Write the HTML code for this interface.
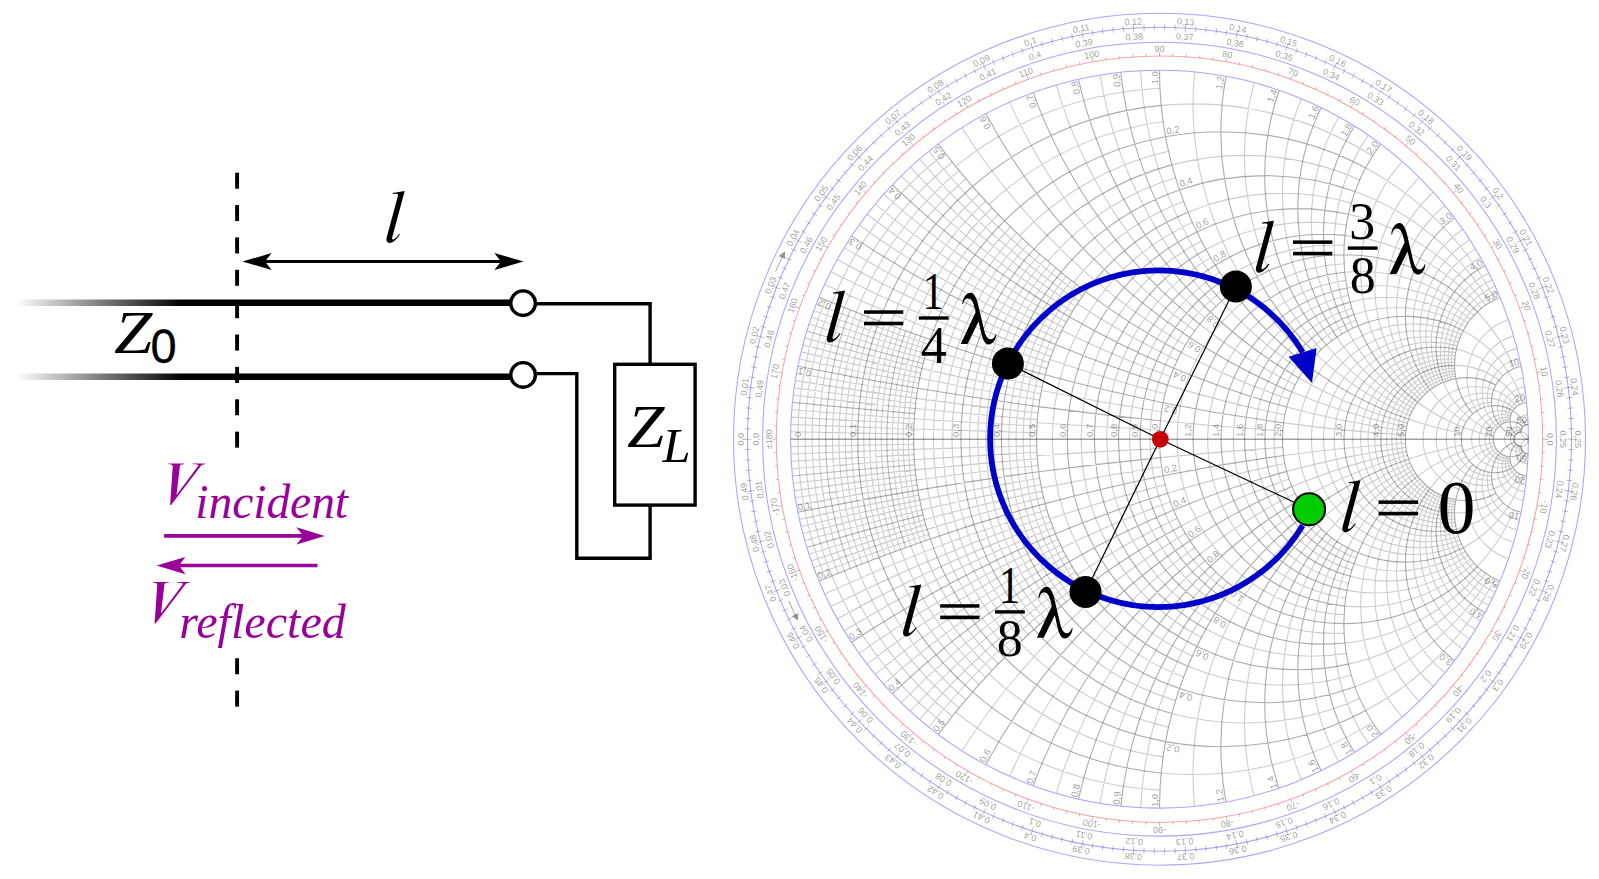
<!DOCTYPE html>
<html><head><meta charset="utf-8"><title>Transmission line and Smith chart</title><style>html,body{margin:0;padding:0;background:#fff;overflow:hidden}svg{display:block}</style></head><body>
<svg width="1599" height="879" viewBox="0 0 1599 879">
<rect width="1599" height="879" fill="#fff"/>
<g fill="none" stroke="#000" stroke-width="1.1">
<path stroke-opacity="0.2" d="M797.9,439.2A365.2,365.2 0 0 1 825.5,300.0M797.9,439.2A365.2,365.2 0 0 0 825.5,578.4M790.7,431.8A36890.0,36890.0 0 0 0 913.6,434.1M790.7,446.6A36890.0,36890.0 0 0 1 913.6,444.3M805.1,439.2A361.7,361.7 0 0 1 831.8,302.6M805.1,439.2A361.7,361.7 0 0 0 831.8,575.8M790.9,424.4A18445.0,18445.0 0 0 0 913.7,429.0M790.9,454.0A18445.0,18445.0 0 0 1 913.7,449.4M812.1,439.2A358.2,358.2 0 0 1 838.1,305.2M812.1,439.2A358.2,358.2 0 0 0 838.1,573.2M791.3,417.1A12296.7,12296.7 0 0 0 914.0,423.8M791.3,461.3A12296.7,12296.7 0 0 1 914.0,454.6M819.0,439.2A354.7,354.7 0 0 1 844.3,307.6M819.0,439.2A354.7,354.7 0 0 0 844.3,570.8M791.8,409.7A9222.5,9222.5 0 0 0 914.2,418.7M791.8,468.7A9222.5,9222.5 0 0 1 914.2,459.7M832.4,439.2A348.0,348.0 0 0 1 856.3,312.4M832.4,439.2A348.0,348.0 0 0 0 856.3,566.0M793.2,395.1A6148.3,6148.3 0 0 0 915.1,408.5M793.2,483.3A6148.3,6148.3 0 0 1 915.1,469.9M838.9,439.2A344.8,344.8 0 0 1 862.1,314.7M838.9,439.2A344.8,344.8 0 0 0 862.1,563.7M794.2,387.8A5270.0,5270.0 0 0 0 915.7,403.5M794.2,490.6A5270.0,5270.0 0 0 1 915.7,474.9M845.3,439.2A341.6,341.6 0 0 1 867.9,316.9M845.3,439.2A341.6,341.6 0 0 0 867.9,561.5M795.3,380.6A4611.2,4611.2 0 0 0 916.3,398.4M795.3,497.8A4611.2,4611.2 0 0 1 916.3,480.0M851.5,439.2A338.4,338.4 0 0 1 873.6,319.0M851.5,439.2A338.4,338.4 0 0 0 873.6,559.4M796.5,373.3A4098.9,4098.9 0 0 0 917.0,393.3M796.5,505.1A4098.9,4098.9 0 0 1 917.0,485.1M863.7,439.2A332.3,332.3 0 0 1 884.6,323.2M863.7,439.2A332.3,332.3 0 0 0 884.6,555.2M799.4,359.0A3353.6,3353.6 0 0 0 918.7,383.3M799.4,519.4A3353.6,3353.6 0 0 1 918.7,495.1M869.7,439.2A329.4,329.4 0 0 1 890.0,325.2M869.7,439.2A329.4,329.4 0 0 0 890.0,553.2M801.1,351.9A3074.2,3074.2 0 0 0 919.7,378.3M801.1,526.5A3074.2,3074.2 0 0 1 919.7,500.1M875.5,439.2A326.5,326.5 0 0 1 895.3,327.1M875.5,439.2A326.5,326.5 0 0 0 895.3,551.3M802.9,344.9A2837.7,2837.7 0 0 0 920.7,373.4M802.9,533.5A2837.7,2837.7 0 0 1 920.7,505.0M881.2,439.2A323.6,323.6 0 0 1 900.5,329.0M881.2,439.2A323.6,323.6 0 0 0 900.5,549.4M804.8,337.9A2635.0,2635.0 0 0 0 921.8,368.4M804.8,540.5A2635.0,2635.0 0 0 1 921.8,510.0M892.4,439.2A318.0,318.0 0 0 1 910.7,332.7M892.4,439.2A318.0,318.0 0 0 0 910.7,545.7M809.0,324.1A2305.6,2305.6 0 0 0 924.3,358.7M809.0,554.3A2305.6,2305.6 0 0 1 924.3,519.7M897.8,439.2A315.3,315.3 0 0 1 915.7,334.5M897.8,439.2A315.3,315.3 0 0 0 915.7,543.9M811.3,317.3A2170.0,2170.0 0 0 0 925.7,353.8M811.3,561.1A2170.0,2170.0 0 0 1 925.7,524.6M903.1,439.2A312.6,312.6 0 0 1 920.6,336.2M903.1,439.2A312.6,312.6 0 0 0 920.6,542.2M813.8,310.6A2049.4,2049.4 0 0 0 927.1,349.0M813.8,567.8A2049.4,2049.4 0 0 1 927.1,529.4M908.4,439.2A310.0,310.0 0 0 1 925.4,337.9M908.4,439.2A310.0,310.0 0 0 0 925.4,540.5M816.3,303.9A1941.6,1941.6 0 0 0 928.6,344.2M816.3,574.5A1941.6,1941.6 0 0 1 928.6,534.2M831.8,302.6A361.7,361.7 0 0 1 945.2,153.3M831.8,575.8A361.7,361.7 0 0 0 945.2,725.1M913.7,429.0A18445.0,18445.0 0 0 0 1036.6,432.6M913.7,449.4A18445.0,18445.0 0 0 1 1036.6,445.8M844.3,307.6A354.7,354.7 0 0 1 952.2,162.2M844.3,570.8A354.7,354.7 0 0 0 952.2,716.2M914.2,418.7A9222.5,9222.5 0 0 0 1036.9,426.1M914.2,459.7A9222.5,9222.5 0 0 1 1036.9,452.3M856.3,312.4A348.0,348.0 0 0 1 959.0,170.6M856.3,566.0A348.0,348.0 0 0 0 959.0,707.8M915.1,408.5A6148.3,6148.3 0 0 0 1037.3,419.6M915.1,469.9A6148.3,6148.3 0 0 1 1037.3,458.8M867.9,316.9A341.6,341.6 0 0 1 965.8,178.8M867.9,561.5A341.6,341.6 0 0 0 965.8,699.6M916.3,398.4A4611.2,4611.2 0 0 0 1037.9,413.0M916.3,480.0A4611.2,4611.2 0 0 1 1037.9,465.4M890.0,325.2A329.4,329.4 0 0 1 979.1,194.0M890.0,553.2A329.4,329.4 0 0 0 979.1,684.4M919.7,378.3A3074.2,3074.2 0 0 0 1039.7,400.1M919.7,500.1A3074.2,3074.2 0 0 1 1039.7,478.3M900.5,329.0A323.6,323.6 0 0 1 985.6,201.1M900.5,549.4A323.6,323.6 0 0 0 985.6,677.3M921.8,368.4A2635.0,2635.0 0 0 0 1040.8,393.7M921.8,510.0A2635.0,2635.0 0 0 1 1040.8,484.7M910.7,332.7A318.0,318.0 0 0 1 992.0,208.0M910.7,545.7A318.0,318.0 0 0 0 992.0,670.4M924.3,358.7A2305.6,2305.6 0 0 0 1042.1,387.3M924.3,519.7A2305.6,2305.6 0 0 1 1042.1,491.1M920.6,336.2A312.6,312.6 0 0 1 998.3,214.6M920.6,542.2A312.6,312.6 0 0 0 998.3,663.8M927.1,349.0A2049.4,2049.4 0 0 0 1043.5,381.0M927.1,529.4A2049.4,2049.4 0 0 1 1043.5,497.4M923.6,439.2A302.4,302.4 0 0 1 1010.6,227.0M923.6,439.2A302.4,302.4 0 0 0 1010.6,651.4M824.7,284.4A1676.8,1676.8 0 0 0 1046.9,368.6M824.7,594.0A1676.8,1676.8 0 0 1 1046.9,509.8M933.4,439.2A297.5,297.5 0 0 1 1016.6,232.8M933.4,439.2A297.5,297.5 0 0 0 1016.6,645.6M830.8,271.8A1537.1,1537.1 0 0 0 1048.8,362.5M830.8,606.6A1537.1,1537.1 0 0 1 1048.8,515.9M942.8,439.2A292.8,292.8 0 0 1 1022.5,238.4M942.8,439.2A292.8,292.8 0 0 0 1022.5,640.0M837.3,259.5A1418.8,1418.8 0 0 0 1050.9,356.4M837.3,618.9A1418.8,1418.8 0 0 1 1050.9,522.0M952.0,439.2A288.2,288.2 0 0 1 1028.3,243.8M952.0,439.2A288.2,288.2 0 0 0 1028.3,634.6M844.2,247.6A1317.5,1317.5 0 0 0 1053.1,350.5M844.2,630.8A1317.5,1317.5 0 0 1 1053.1,527.9M969.5,439.2A279.5,279.5 0 0 1 1039.6,254.0M969.5,439.2A279.5,279.5 0 0 0 1039.6,624.4M859.1,225.0A1152.8,1152.8 0 0 0 1057.9,338.8M859.1,653.4A1152.8,1152.8 0 0 1 1057.9,539.6M977.8,439.2A275.3,275.3 0 0 1 1045.1,258.9M977.8,439.2A275.3,275.3 0 0 0 1045.1,619.5M867.1,214.3A1085.0,1085.0 0 0 0 1060.6,333.2M867.1,664.1A1085.0,1085.0 0 0 1 1060.6,545.2M985.9,439.2A271.2,271.2 0 0 1 1050.5,263.5M985.9,439.2A271.2,271.2 0 0 0 1050.5,614.9M875.2,204.1A1024.7,1024.7 0 0 0 1063.3,327.6M875.2,674.3A1024.7,1024.7 0 0 1 1063.3,550.8M993.8,439.2A267.3,267.3 0 0 1 1055.8,268.0M993.8,439.2A267.3,267.3 0 0 0 1055.8,610.4M883.7,194.2A970.8,970.8 0 0 0 1066.2,322.1M883.7,684.2A970.8,970.8 0 0 1 1066.2,556.3M1008.8,439.2A259.8,259.8 0 0 1 1066.1,276.4M1008.8,439.2A259.8,259.8 0 0 0 1066.1,602.0M901.2,175.8A878.3,878.3 0 0 0 1072.3,311.5M901.2,702.6A878.3,878.3 0 0 1 1072.3,566.9M1016.0,439.2A256.2,256.2 0 0 1 1071.2,280.4M1016.0,439.2A256.2,256.2 0 0 0 1071.2,598.0M910.3,167.2A838.4,838.4 0 0 0 1075.5,306.4M910.3,711.2A838.4,838.4 0 0 1 1075.5,572.0M1023.1,439.2A252.7,252.7 0 0 1 1076.1,284.3M1023.1,439.2A252.7,252.7 0 0 0 1076.1,594.1M919.5,159.1A802.0,802.0 0 0 0 1078.8,301.3M919.5,719.3A802.0,802.0 0 0 1 1078.8,577.1M1029.9,439.2A249.3,249.3 0 0 1 1081.0,288.0M1029.9,439.2A249.3,249.3 0 0 0 1081.0,590.4M928.8,151.4A768.5,768.5 0 0 0 1082.2,296.4M928.8,727.0A768.5,768.5 0 0 1 1082.2,582.0M955.6,166.4A351.3,351.3 0 0 1 1159.9,88.3M955.6,712.0A351.3,351.3 0 0 0 1159.9,790.1M1037.1,422.8A7378.0,7378.0 0 0 0 1159.7,430.0M1037.1,455.6A7378.0,7378.0 0 0 1 1159.7,448.4M988.8,204.6A320.8,320.8 0 0 1 1163.1,121.5M988.8,673.8A320.8,320.8 0 0 0 1163.1,756.9M1041.4,390.5A2459.3,2459.3 0 0 0 1161.6,411.7M1041.4,487.9A2459.3,2459.3 0 0 1 1161.6,466.7M1019.6,235.7A295.1,295.1 0 0 1 1168.5,151.3M1019.6,642.7A295.1,295.1 0 0 0 1168.5,727.1M1049.8,359.4A1475.6,1475.6 0 0 0 1165.2,393.8M1049.8,519.0A1475.6,1475.6 0 0 1 1165.2,484.6M1047.8,261.2A273.3,273.3 0 0 1 1175.5,177.8M1047.8,617.2A273.3,273.3 0 0 0 1175.5,700.6M1061.9,330.4A1054.0,1054.0 0 0 0 1170.5,376.6M1061.9,548.0A1054.0,1054.0 0 0 1 1170.5,501.8M1073.6,282.4A254.4,254.4 0 0 1 1183.6,201.4M1073.6,596.0A254.4,254.4 0 0 0 1183.6,677.0M1077.1,303.8A819.8,819.8 0 0 0 1177.3,360.2M1077.1,574.6A819.8,819.8 0 0 1 1177.3,518.2M1052.4,439.2A238.0,238.0 0 0 1 1192.3,222.4M1052.4,439.2A238.0,238.0 0 0 0 1192.3,656.0M962.0,127.7A670.7,670.7 0 0 0 1185.4,344.9M962.0,750.7A670.7,670.7 0 0 1 1185.4,533.5M1081.2,439.2A223.6,223.6 0 0 1 1201.4,241.0M1081.2,439.2A223.6,223.6 0 0 0 1201.4,637.4M1009.7,102.1A567.5,567.5 0 0 0 1194.7,330.8M1009.7,776.3A567.5,567.5 0 0 1 1194.7,547.6M1106.8,439.2A210.8,210.8 0 0 1 1210.6,257.6M1106.8,439.2A210.8,210.8 0 0 0 1210.6,620.8M1056.2,85.1A491.9,491.9 0 0 0 1205.0,317.9M1056.2,793.3A491.9,491.9 0 0 1 1205.0,560.5M1129.6,439.2A199.4,199.4 0 0 1 1219.8,272.4M1129.6,439.2A199.4,199.4 0 0 0 1219.8,606.0M1100.1,75.1A434.0,434.0 0 0 0 1215.9,306.4M1100.1,803.3A434.0,434.0 0 0 1 1215.9,572.0M1150.0,439.2A189.2,189.2 0 0 1 1228.8,285.6M1150.0,439.2A189.2,189.2 0 0 0 1228.8,592.8M1140.6,70.8A388.3,388.3 0 0 0 1227.4,296.2M1140.6,807.6A388.3,388.3 0 0 1 1227.4,582.2M1161.2,105.4A335.4,335.4 0 0 1 1372.6,156.0M1161.2,773.0A335.4,335.4 0 0 0 1372.6,722.4M1160.4,420.8A3689.0,3689.0 0 0 0 1282.7,431.0M1160.4,457.6A3689.0,3689.0 0 0 1 1282.7,447.4M1171.8,164.9A283.8,283.8 0 0 1 1359.8,179.9M1171.8,713.5A283.8,283.8 0 0 0 1359.8,698.5M1167.6,385.1A1229.7,1229.7 0 0 0 1284.9,414.9M1167.6,493.3A1229.7,1229.7 0 0 1 1284.9,463.5M1187.9,212.2A245.9,245.9 0 0 1 1351.3,203.1M1187.9,666.2A245.9,245.9 0 0 0 1351.3,675.3M1181.2,352.4A737.8,737.8 0 0 0 1289.1,399.3M1181.2,526.0A737.8,737.8 0 0 1 1289.1,479.1M1206.0,249.5A217.0,217.0 0 0 1 1346.4,225.0M1206.0,628.9A217.0,217.0 0 0 0 1346.4,653.4M1199.8,324.2A527.0,527.0 0 0 0 1295.2,384.8M1199.8,554.2A527.0,527.0 0 0 1 1295.2,493.6M1224.3,279.2A194.2,194.2 0 0 1 1344.2,245.3M1224.3,599.2A194.2,194.2 0 0 0 1344.2,633.1M1221.6,301.2A409.9,409.9 0 0 0 1302.8,371.5M1221.6,577.2A409.9,409.9 0 0 1 1302.8,506.9M1177.1,439.2A175.7,175.7 0 0 1 1344.2,263.7M1177.1,439.2A175.7,175.7 0 0 0 1344.2,614.7M1194.6,72.0A335.4,335.4 0 0 0 1311.6,359.7M1194.6,806.4A335.4,335.4 0 0 1 1311.6,518.7M1207.6,439.2A160.4,160.4 0 0 1 1345.7,280.4M1207.6,439.2A160.4,160.4 0 0 0 1345.7,598.0M1254.1,82.6A283.8,283.8 0 0 0 1321.3,349.5M1254.1,795.8A283.8,283.8 0 0 1 1321.3,528.9M1233.3,439.2A147.6,147.6 0 0 1 1348.4,295.2M1233.3,439.2A147.6,147.6 0 0 0 1348.4,583.2M1301.4,98.7A245.9,245.9 0 0 0 1331.7,340.8M1301.4,779.7A245.9,245.9 0 0 1 1331.7,537.6M1255.1,439.2A136.6,136.6 0 0 1 1352.0,308.5M1255.1,439.2A136.6,136.6 0 0 0 1352.0,569.9M1338.7,116.8A217.0,217.0 0 0 0 1342.2,333.7M1338.7,761.6A217.0,217.0 0 0 1 1342.2,544.7M1274.0,439.2A127.2,127.2 0 0 1 1356.0,320.3M1274.0,439.2A127.2,127.2 0 0 0 1356.0,558.1M1368.4,135.1A194.2,194.2 0 0 0 1352.9,328.0M1368.4,743.3A194.2,194.2 0 0 1 1352.9,550.4M1365.7,167.9A307.4,307.4 0 0 1 1494.9,299.7M1365.7,710.5A307.4,307.4 0 0 0 1494.9,578.7M1283.6,422.9A1844.5,1844.5 0 0 0 1405.6,435.1M1283.6,455.5A1844.5,1844.5 0 0 1 1405.6,443.3M1355.1,191.6A263.5,263.5 0 0 1 1490.1,302.4M1355.1,686.8A263.5,263.5 0 0 0 1490.1,576.0M1286.8,407.0A922.2,922.2 0 0 0 1406.0,431.0M1286.8,471.4A922.2,922.2 0 0 1 1406.0,447.4M1348.4,214.3A230.6,230.6 0 0 1 1485.6,305.3M1348.4,664.1A230.6,230.6 0 0 0 1485.6,573.1M1291.9,391.9A614.8,614.8 0 0 0 1406.7,427.0M1291.9,486.5A614.8,614.8 0 0 1 1406.7,451.4M1345.0,235.4A204.9,204.9 0 0 1 1481.4,308.6M1345.0,643.0A204.9,204.9 0 0 0 1481.4,569.8M1298.8,378.0A461.1,461.1 0 0 0 1407.6,423.1M1298.8,500.4A461.1,461.1 0 0 1 1407.6,455.3M1344.8,272.3A167.7,167.7 0 0 1 1474.0,315.6M1344.8,606.1A167.7,167.7 0 0 0 1474.0,562.8M1316.4,354.4A307.4,307.4 0 0 0 1410.2,415.6M1316.4,524.0A307.4,307.4 0 0 1 1410.2,462.8M1347.0,288.0A153.7,153.7 0 0 1 1470.8,319.3M1347.0,590.4A153.7,153.7 0 0 0 1470.8,559.1M1326.4,345.0A263.5,263.5 0 0 0 1411.8,412.0M1326.4,533.4A263.5,263.5 0 0 1 1411.8,466.4M1350.1,302.1A141.9,141.9 0 0 1 1468.0,323.0M1350.1,576.3A141.9,141.9 0 0 0 1468.0,555.4M1336.9,337.1A230.6,230.6 0 0 0 1413.6,408.6M1336.9,541.3A230.6,230.6 0 0 1 1413.6,469.8M1353.9,314.6A131.8,131.8 0 0 1 1465.5,326.9M1353.9,563.8A131.8,131.8 0 0 0 1465.5,551.5M1347.6,330.7A204.9,204.9 0 0 0 1415.6,405.4M1347.6,547.7A204.9,204.9 0 0 1 1415.6,473.0M1297.8,439.2A115.3,115.3 0 0 1 1461.4,334.5M1297.8,439.2A115.3,115.3 0 0 0 1461.4,543.9M1402.1,161.3A167.7,167.7 0 0 0 1420.0,399.5M1402.1,717.1A167.7,167.7 0 0 1 1420.0,478.9M1311.4,439.2A108.5,108.5 0 0 1 1459.8,338.3M1311.4,439.2A108.5,108.5 0 0 0 1459.8,540.1M1419.3,177.3A153.7,153.7 0 0 0 1422.4,396.8M1419.3,701.1A153.7,153.7 0 0 1 1422.4,481.6M1323.5,439.2A102.5,102.5 0 0 1 1458.4,342.0M1323.5,439.2A102.5,102.5 0 0 0 1458.4,536.4M1433.3,192.0A141.9,141.9 0 0 0 1424.9,394.3M1433.3,686.4A141.9,141.9 0 0 1 1424.9,484.1M1334.2,439.2A97.1,97.1 0 0 1 1457.3,345.7M1334.2,439.2A97.1,97.1 0 0 0 1457.3,532.7M1444.9,205.5A131.8,131.8 0 0 0 1427.4,392.1M1444.9,672.9A131.8,131.8 0 0 1 1427.4,486.3M1352.7,439.2A87.8,87.8 0 0 1 1455.7,352.7M1352.7,439.2A87.8,87.8 0 0 0 1455.7,525.7M1462.8,229.2A115.3,115.3 0 0 0 1432.7,388.1M1462.8,649.2A115.3,115.3 0 0 1 1432.7,490.3M1360.7,439.2A83.8,83.8 0 0 1 1455.2,356.0M1360.7,439.2A83.8,83.8 0 0 0 1455.2,522.4M1469.7,239.5A108.5,108.5 0 0 0 1435.3,386.5M1469.7,638.9A108.5,108.5 0 0 1 1435.3,491.9M1368.0,439.2A80.2,80.2 0 0 1 1454.9,359.3M1368.0,439.2A80.2,80.2 0 0 0 1454.9,519.1M1475.5,248.9A102.5,102.5 0 0 0 1438.0,384.9M1475.5,629.5A102.5,102.5 0 0 1 1438.0,493.4M1374.7,439.2A76.9,76.9 0 0 1 1454.7,362.4M1374.7,439.2A76.9,76.9 0 0 0 1454.7,516.0M1480.6,257.6A97.1,97.1 0 0 0 1440.6,383.6M1480.6,620.8A97.1,97.1 0 0 1 1440.6,494.8M1386.5,439.2A70.9,70.9 0 0 1 1454.7,368.3M1386.5,439.2A70.9,70.9 0 0 0 1454.7,510.1M1488.8,273.0A87.8,87.8 0 0 0 1445.9,381.4M1488.8,605.4A87.8,87.8 0 0 1 1445.9,497.0M1391.8,439.2A68.3,68.3 0 0 1 1454.8,371.1M1391.8,439.2A68.3,68.3 0 0 0 1454.8,507.3M1492.2,279.8A83.8,83.8 0 0 0 1448.4,380.6M1492.2,598.6A83.8,83.8 0 0 1 1448.4,497.8M1396.6,439.2A65.9,65.9 0 0 1 1455.1,373.7M1396.6,439.2A65.9,65.9 0 0 0 1455.1,504.7M1495.1,286.0A80.2,80.2 0 0 0 1451.0,379.8M1495.1,592.4A80.2,80.2 0 0 1 1451.0,498.6M1401.2,439.2A63.6,63.6 0 0 1 1455.4,376.3M1401.2,439.2A63.6,63.6 0 0 0 1455.4,502.1M1497.7,291.9A76.9,76.9 0 0 0 1453.4,379.2M1497.7,586.5A76.9,76.9 0 0 1 1453.4,499.2M1477.5,312.0A184.4,184.4 0 0 1 1514.2,368.3M1477.5,566.4A184.4,184.4 0 0 0 1514.2,510.1M1408.8,419.3A368.9,368.9 0 0 0 1461.9,433.2M1408.8,459.1A368.9,368.9 0 0 1 1461.9,445.2M1463.3,330.7A123.0,123.0 0 0 1 1508.1,371.5M1463.3,547.7A123.0,123.0 0 0 0 1508.1,506.9M1417.7,402.3A184.4,184.4 0 0 0 1463.5,427.4M1417.7,476.1A184.4,184.4 0 0 1 1463.5,451.0M1456.4,349.2A92.2,92.2 0 0 1 1503.0,375.6M1456.4,529.2A92.2,92.2 0 0 0 1503.0,502.8M1430.0,390.0A123.0,123.0 0 0 0 1466.0,422.2M1430.0,488.4A123.0,123.0 0 0 1 1466.0,456.2M1454.6,365.4A73.8,73.8 0 0 1 1498.9,380.2M1454.6,513.0A73.8,73.8 0 0 0 1498.9,498.2M1443.3,382.4A92.2,92.2 0 0 0 1469.2,417.7M1443.3,496.0A92.2,92.2 0 0 1 1469.2,460.7M1423.0,439.2A52.7,52.7 0 0 1 1493.7,389.7M1423.0,439.2A52.7,52.7 0 0 0 1493.7,488.7M1508.5,319.6A61.5,61.5 0 0 0 1476.7,411.0M1508.5,558.8A61.5,61.5 0 0 1 1476.7,467.4M1436.2,439.2A46.1,46.1 0 0 1 1492.4,394.2M1436.2,439.2A46.1,46.1 0 0 0 1492.4,484.2M1513.6,335.9A52.7,52.7 0 0 0 1480.7,408.8M1513.6,542.5A52.7,52.7 0 0 1 1480.7,469.6M1446.4,439.2A41.0,41.0 0 0 1 1491.7,398.4M1446.4,439.2A41.0,41.0 0 0 0 1491.7,480.0M1517.0,348.4A46.1,46.1 0 0 0 1484.5,407.3M1517.0,530.0A46.1,46.1 0 0 1 1484.5,471.1M1454.6,439.2A36.9,36.9 0 0 1 1491.5,402.3M1454.6,439.2A36.9,36.9 0 0 0 1491.5,476.1M1519.4,358.2A41.0,41.0 0 0 0 1488.2,406.3M1519.4,520.2A41.0,41.0 0 0 1 1488.2,472.1M1508.1,371.5A123.0,123.0 0 0 1 1523.0,403.1M1508.1,506.9A123.0,123.0 0 0 0 1523.0,475.3M1463.5,427.4A184.4,184.4 0 0 0 1493.6,435.9M1463.5,451.0A184.4,184.4 0 0 1 1493.6,442.5M1498.9,380.2A73.8,73.8 0 0 1 1519.7,404.5M1498.9,498.2A73.8,73.8 0 0 0 1519.7,473.9M1469.2,417.7A92.2,92.2 0 0 0 1494.5,432.7M1469.2,460.7A92.2,92.2 0 0 1 1494.5,445.7M1493.7,389.7A52.7,52.7 0 0 1 1516.9,406.3M1493.7,488.7A52.7,52.7 0 0 0 1516.9,472.1M1476.7,411.0A61.5,61.5 0 0 0 1495.9,429.9M1476.7,467.4A61.5,61.5 0 0 1 1495.9,448.5M1491.7,398.4A41.0,41.0 0 0 1 1514.6,408.5M1491.7,480.0A41.0,41.0 0 0 0 1514.6,469.9M1484.5,407.3A46.1,46.1 0 0 0 1497.7,427.5M1484.5,471.1A46.1,46.1 0 0 1 1497.7,450.9M1471.6,439.2A28.4,28.4 0 0 1 1511.5,413.3M1471.6,439.2A28.4,28.4 0 0 0 1511.5,465.1M1523.3,378.1A30.7,30.7 0 0 0 1501.9,424.1M1523.3,500.3A30.7,30.7 0 0 1 1501.9,454.3M1479.2,439.2A24.6,24.6 0 0 1 1510.7,415.6M1479.2,439.2A24.6,24.6 0 0 0 1510.7,462.8M1524.7,386.8A26.3,26.3 0 0 0 1504.1,423.0M1524.7,491.6A26.3,26.3 0 0 1 1504.1,455.4M1485.0,439.2A21.7,21.7 0 0 1 1510.2,417.8M1485.0,439.2A21.7,21.7 0 0 0 1510.2,460.6M1525.5,393.3A23.1,23.1 0 0 0 1506.2,422.3M1525.5,485.1A23.1,23.1 0 0 1 1506.2,456.1M1489.6,439.2A19.4,19.4 0 0 1 1510.0,419.8M1489.6,439.2A19.4,19.4 0 0 0 1510.0,458.6M1526.1,398.3A20.5,20.5 0 0 0 1508.1,421.8M1526.1,480.1A20.5,20.5 0 0 1 1508.1,456.6M1504.6,439.2A11.9,11.9 0 0 1 1521.8,428.5M1504.6,439.2A11.9,11.9 0 0 0 1521.8,449.9M1527.6,414.6A12.3,12.3 0 0 0 1517.7,432.9M1527.6,463.8A12.3,12.3 0 0 1 1517.7,445.5M1510.4,439.2A9.0,9.0 0 0 1 1521.2,430.4M1510.4,439.2A9.0,9.0 0 0 0 1521.2,448.0M1527.9,420.8A9.2,9.2 0 0 0 1519.4,432.2M1527.9,457.6A9.2,9.2 0 0 1 1519.4,446.2"/>
<path stroke-opacity="0.27" d="M825.7,439.2A351.3,351.3 0 0 1 850.3,310.0M825.7,439.2A351.3,351.3 0 0 0 850.3,568.4M792.4,402.4A7378.0,7378.0 0 0 0 914.6,413.6M792.4,476.0A7378.0,7378.0 0 0 1 914.6,464.8M886.8,439.2A320.8,320.8 0 0 1 905.7,330.9M886.8,439.2A320.8,320.8 0 0 0 905.7,547.5M806.8,331.0A2459.3,2459.3 0 0 0 923.0,363.5M806.8,547.4A2459.3,2459.3 0 0 1 923.0,514.9"/>
<path stroke-opacity="0.33" d="M857.7,439.2A335.4,335.4 0 0 1 879.1,321.2M857.7,439.2A335.4,335.4 0 0 0 879.1,557.2M797.9,366.2A3689.0,3689.0 0 0 0 917.8,388.3M797.9,512.2A3689.0,3689.0 0 0 1 917.8,490.1M913.6,439.2A307.4,307.4 0 0 1 930.2,339.5M913.6,439.2A307.4,307.4 0 0 0 930.2,538.9M819.0,297.3A1844.5,1844.5 0 0 0 930.2,339.5M819.0,581.1A1844.5,1844.5 0 0 1 930.2,538.9M879.1,321.2A335.4,335.4 0 0 1 972.5,186.5M879.1,557.2A335.4,335.4 0 0 0 972.5,691.9M917.8,388.3A3689.0,3689.0 0 0 0 1038.7,406.6M917.8,490.1A3689.0,3689.0 0 0 1 1038.7,471.8M930.2,339.5A307.4,307.4 0 0 1 1004.5,220.9M930.2,538.9A307.4,307.4 0 0 0 1004.5,657.5M930.2,339.5A1844.5,1844.5 0 0 0 1045.1,374.8M930.2,538.9A1844.5,1844.5 0 0 1 1045.1,503.6M960.9,439.2A283.8,283.8 0 0 1 1034.0,249.0M960.9,439.2A283.8,283.8 0 0 0 1034.0,629.4M851.5,236.1A1229.7,1229.7 0 0 0 1055.5,344.6M851.5,642.3A1229.7,1229.7 0 0 1 1055.5,533.8M1001.4,439.2A263.5,263.5 0 0 1 1061.0,272.3M1001.4,439.2A263.5,263.5 0 0 0 1061.0,606.1M892.4,184.8A922.2,922.2 0 0 0 1069.2,316.7M892.4,693.6A922.2,922.2 0 0 1 1069.2,561.7M1036.5,439.2A245.9,245.9 0 0 1 1085.7,291.6M1036.5,439.2A245.9,245.9 0 0 0 1085.7,586.8M938.2,144.1A737.8,737.8 0 0 0 1085.7,291.6M938.2,734.3A737.8,737.8 0 0 1 1085.7,586.8M972.5,186.5A335.4,335.4 0 0 1 1161.2,105.4M972.5,691.9A335.4,335.4 0 0 0 1161.2,773.0M1038.7,406.6A3689.0,3689.0 0 0 0 1160.4,420.8M1038.7,471.8A3689.0,3689.0 0 0 1 1160.4,457.6M1004.5,220.9A307.4,307.4 0 0 1 1165.5,136.8M1004.5,657.5A307.4,307.4 0 0 0 1165.5,741.6M1045.1,374.8A1844.5,1844.5 0 0 0 1163.2,402.7M1045.1,503.6A1844.5,1844.5 0 0 1 1163.2,475.7M1034.0,249.0A283.8,283.8 0 0 1 1171.8,164.9M1034.0,629.4A283.8,283.8 0 0 0 1171.8,713.5M1055.5,344.6A1229.7,1229.7 0 0 0 1167.6,385.1M1055.5,533.8A1229.7,1229.7 0 0 1 1167.6,493.3M1061.0,272.3A263.5,263.5 0 0 1 1179.4,189.9M1061.0,606.1A263.5,263.5 0 0 0 1179.4,688.5M1069.2,316.7A922.2,922.2 0 0 0 1173.7,368.3M1069.2,561.7A922.2,922.2 0 0 1 1173.7,510.1M1085.7,291.6A245.9,245.9 0 0 1 1187.9,212.2M1085.7,586.8A245.9,245.9 0 0 0 1187.9,666.2M1085.7,291.6A737.8,737.8 0 0 0 1181.2,352.4M1085.7,586.8A737.8,737.8 0 0 1 1181.2,526.0M1067.3,439.2A230.6,230.6 0 0 1 1196.8,232.0M1067.3,439.2A230.6,230.6 0 0 0 1196.8,646.4M985.9,113.7A614.8,614.8 0 0 0 1190.0,337.7M985.9,764.7A614.8,614.8 0 0 1 1190.0,540.7M1094.4,439.2A217.0,217.0 0 0 1 1206.0,249.5M1094.4,439.2A217.0,217.0 0 0 0 1206.0,628.9M1033.2,92.6A527.0,527.0 0 0 0 1199.8,324.2M1033.2,785.8A527.0,527.0 0 0 1 1199.8,554.2M1118.5,439.2A204.9,204.9 0 0 1 1215.2,265.2M1118.5,439.2A204.9,204.9 0 0 0 1215.2,613.2M1078.5,79.3A461.1,461.1 0 0 0 1210.4,312.0M1078.5,799.1A461.1,461.1 0 0 1 1210.4,566.4M1140.1,439.2A194.2,194.2 0 0 1 1224.3,279.2M1140.1,439.2A194.2,194.2 0 0 0 1224.3,599.2M1120.8,72.3A409.9,409.9 0 0 0 1221.6,301.2M1120.8,806.1A409.9,409.9 0 0 1 1221.6,577.2M1159.5,439.2A184.4,184.4 0 0 1 1233.3,291.6M1159.5,439.2A184.4,184.4 0 0 0 1233.3,586.8M1159.5,70.3A368.9,368.9 0 0 0 1233.3,291.6M1159.5,808.1A368.9,368.9 0 0 1 1233.3,586.8M1165.5,136.8A307.4,307.4 0 0 1 1365.7,167.9M1165.5,741.6A307.4,307.4 0 0 0 1365.7,710.5M1163.2,402.7A1844.5,1844.5 0 0 0 1283.6,422.9M1163.2,475.7A1844.5,1844.5 0 0 1 1283.6,455.5M1179.4,189.9A263.5,263.5 0 0 1 1355.1,191.6M1179.4,688.5A263.5,263.5 0 0 0 1355.1,686.8M1173.7,368.3A922.2,922.2 0 0 0 1286.8,407.0M1173.7,510.1A922.2,922.2 0 0 1 1286.8,471.4M1196.8,232.0A230.6,230.6 0 0 1 1348.4,214.3M1196.8,646.4A230.6,230.6 0 0 0 1348.4,664.1M1190.0,337.7A614.8,614.8 0 0 0 1291.9,391.9M1190.0,540.7A614.8,614.8 0 0 1 1291.9,486.5M1215.2,265.2A204.9,204.9 0 0 1 1345.0,235.4M1215.2,613.2A204.9,204.9 0 0 0 1345.0,643.0M1210.4,312.0A461.1,461.1 0 0 0 1298.8,378.0M1210.4,566.4A461.1,461.1 0 0 1 1298.8,500.4M1233.3,291.6A184.4,184.4 0 0 1 1344.0,254.8M1233.3,586.8A184.4,184.4 0 0 0 1344.0,623.6M1233.3,291.6A368.9,368.9 0 0 0 1307.1,365.4M1233.3,586.8A368.9,368.9 0 0 1 1307.1,513.0M1193.0,439.2A167.7,167.7 0 0 1 1344.8,272.3M1193.0,439.2A167.7,167.7 0 0 0 1344.8,606.1M1226.0,76.3A307.4,307.4 0 0 0 1316.4,354.4M1226.0,802.1A307.4,307.4 0 0 1 1316.4,524.0M1221.0,439.2A153.7,153.7 0 0 1 1347.0,288.0M1221.0,439.2A153.7,153.7 0 0 0 1347.0,590.4M1279.1,90.2A263.5,263.5 0 0 0 1326.4,345.0M1279.1,788.2A263.5,263.5 0 0 1 1326.4,533.4M1244.6,439.2A141.9,141.9 0 0 1 1350.1,302.1M1244.6,439.2A141.9,141.9 0 0 0 1350.1,576.3M1321.2,107.6A230.6,230.6 0 0 0 1336.9,337.1M1321.2,770.8A230.6,230.6 0 0 1 1336.9,541.3M1264.9,439.2A131.8,131.8 0 0 1 1353.9,314.6M1264.9,439.2A131.8,131.8 0 0 0 1353.9,563.8M1354.4,126.0A204.9,204.9 0 0 0 1347.6,330.7M1354.4,752.4A204.9,204.9 0 0 1 1347.6,547.7M1282.5,439.2A123.0,123.0 0 0 1 1358.1,325.7M1282.5,439.2A123.0,123.0 0 0 0 1358.1,552.7M1380.8,144.1A184.4,184.4 0 0 0 1358.1,325.7M1380.8,734.3A184.4,184.4 0 0 1 1358.1,552.7M1344.0,254.8A184.4,184.4 0 0 1 1477.5,312.0M1344.0,623.6A184.4,184.4 0 0 0 1477.5,566.4M1307.1,365.4A368.9,368.9 0 0 0 1408.8,419.3M1307.1,513.0A368.9,368.9 0 0 1 1408.8,459.1M1358.1,325.7A123.0,123.0 0 0 1 1463.3,330.7M1358.1,552.7A123.0,123.0 0 0 0 1463.3,547.7M1358.1,325.7A184.4,184.4 0 0 0 1417.7,402.3M1358.1,552.7A184.4,184.4 0 0 1 1417.7,476.1M1344.0,439.2A92.2,92.2 0 0 1 1456.4,349.2M1344.0,439.2A92.2,92.2 0 0 0 1456.4,529.2M1454.6,217.9A123.0,123.0 0 0 0 1430.0,390.0M1454.6,660.5A123.0,123.0 0 0 1 1430.0,488.4M1380.8,439.2A73.8,73.8 0 0 1 1454.6,365.4M1380.8,439.2A73.8,73.8 0 0 0 1454.6,513.0M1485.0,265.6A92.2,92.2 0 0 0 1443.3,382.4M1485.0,612.8A92.2,92.2 0 0 1 1443.3,496.0M1405.4,439.2A61.5,61.5 0 0 1 1455.8,378.7M1405.4,439.2A61.5,61.5 0 0 0 1455.8,499.7M1500.0,297.3A73.8,73.8 0 0 0 1455.8,378.7M1500.0,581.1A73.8,73.8 0 0 1 1455.8,499.7M1455.8,378.7A61.5,61.5 0 0 1 1495.8,384.9M1455.8,499.7A61.5,61.5 0 0 0 1495.8,493.4M1455.8,378.7A73.8,73.8 0 0 0 1472.8,413.9M1455.8,499.7A73.8,73.8 0 0 1 1472.8,464.5M1461.3,439.2A33.5,33.5 0 0 1 1491.7,405.8M1461.3,439.2A33.5,33.5 0 0 0 1491.7,472.6M1521.1,366.2A36.9,36.9 0 0 0 1491.7,405.8M1521.1,512.2A36.9,36.9 0 0 1 1491.7,472.6M1491.7,405.8A33.5,33.5 0 0 1 1512.8,410.9M1491.7,472.6A33.5,33.5 0 0 0 1512.8,467.5M1491.7,405.8A36.9,36.9 0 0 0 1499.8,425.6M1491.7,472.6A36.9,36.9 0 0 1 1499.8,452.8M1493.3,439.2A17.6,17.6 0 0 1 1510.0,421.7M1493.3,439.2A17.6,17.6 0 0 0 1510.0,456.7M1526.6,402.4A18.4,18.4 0 0 0 1510.0,421.7M1526.6,476.0A18.4,18.4 0 0 1 1510.0,456.7M1512.8,410.9A33.5,33.5 0 0 1 1525.3,425.1M1512.8,467.5A33.5,33.5 0 0 0 1525.3,453.3M1499.8,425.6A36.9,36.9 0 0 0 1514.5,436.5M1499.8,452.8A36.9,36.9 0 0 1 1514.5,441.9M1510.0,421.7A17.6,17.6 0 0 1 1523.1,426.7M1510.0,456.7A17.6,17.6 0 0 0 1523.1,451.7M1510.0,421.7A18.4,18.4 0 0 0 1515.9,434.3M1510.0,456.7A18.4,18.4 0 0 1 1515.9,444.1M1513.9,439.2A7.2,7.2 0 0 1 1521.0,432.0M1513.9,439.2A7.2,7.2 0 0 0 1521.0,446.4M1528.1,424.4A7.4,7.4 0 0 0 1521.0,432.0M1528.1,454.0A7.4,7.4 0 0 1 1521.0,446.4"/>
<path stroke-opacity="0.36" stroke-width="1.4" d="M790.6,439.2H1528.4"/>
</g>
<g fill="none" stroke-width="1.05">
<circle cx="1159.5" cy="439.2" r="368.9" stroke="#a6a6ff"/>
<circle cx="1159.5" cy="439.2" r="383.2" stroke="#ffa2a2"/>
<circle cx="1159.5" cy="439.2" r="396.9" stroke="#a6a6ff"/>
<circle cx="1159.5" cy="439.2" r="412" stroke="#a6a6ff"/>
<circle cx="1159.5" cy="439.2" r="426" stroke="#a6a6ff"/>
</g>
<path fill="none" stroke="#000" stroke-opacity="0.3" stroke-width="0.8" d="M751.7,439.2L743.3,439.2M750.6,428.9L744.6,428.8M751.0,418.7L745.0,418.3M751.7,408.4L745.7,407.9M752.6,398.2L746.6,397.5M754.9,388.1L746.6,387.0M755.1,377.8L749.2,376.9M756.8,367.6L750.9,366.6M758.7,357.5L752.9,356.3M760.9,347.5L755.1,346.1M764.5,337.8L756.4,335.7M766.0,327.6L760.3,325.9M769.0,317.7L763.2,315.9M772.1,307.9L766.5,306.0M775.6,298.2L769.9,296.2M780.3,289.1L772.5,286.0M783.1,279.1L777.6,276.8M787.3,269.7L781.8,267.2M791.6,260.4L786.2,257.8M796.3,251.2L790.9,248.5M802.1,242.7L794.8,238.7M806.2,233.2L801.0,230.2M811.4,224.4L806.3,221.3M817.0,215.7L811.9,212.4M822.7,207.2L817.7,203.8M829.6,199.5L822.8,194.6M834.8,190.6L830.0,186.9M841.1,182.5L836.4,178.7M847.7,174.6L843.1,170.7M854.4,166.8L849.9,162.8M862.2,160.0L856.1,154.3M868.5,151.8L864.2,147.6M875.8,144.6L871.6,140.3M883.3,137.6L879.2,133.1M891.0,130.7L887.0,126.2M899.6,125.0L894.2,118.5M906.8,117.6L903.1,112.9M915.0,111.4L911.4,106.5M923.3,105.3L919.8,100.4M931.7,99.5L928.4,94.5M941.0,94.9L936.5,87.8M949.1,88.5L946.0,83.3M958.0,83.3L955.0,78.1M967.0,78.3L964.2,73.0M976.1,73.6L973.4,68.3M985.9,70.2L982.3,62.6M994.7,64.9L992.3,59.4M1004.2,60.8L1001.9,55.3M1013.7,57.1L1011.6,51.5M1023.4,53.5L1021.4,47.9M1033.5,51.4L1030.9,43.4M1042.9,47.2L1041.2,41.4M1052.8,44.4L1051.3,38.6M1062.8,41.8L1061.4,36.0M1072.8,39.5L1071.5,33.6M1083.1,38.6L1081.5,30.4M1093.0,35.6L1092.0,29.7M1103.1,34.1L1102.3,28.2M1113.3,32.8L1112.7,26.9M1123.6,31.8L1123.0,25.8M1133.9,32.2L1133.4,23.8M1144.1,30.5L1143.9,24.5M1154.4,30.2L1154.3,24.2M1164.6,30.2L1164.7,24.2M1174.9,30.5L1175.1,24.5M1185.1,32.2L1185.6,23.8M1195.4,31.8L1196.0,25.8M1205.7,32.8L1206.3,26.9M1215.9,34.1L1216.7,28.2M1226.0,35.6L1227.0,29.7M1235.9,38.6L1237.5,30.4M1246.2,39.5L1247.5,33.6M1256.2,41.8L1257.6,36.0M1266.2,44.4L1267.7,38.6M1276.1,47.2L1277.8,41.4M1285.5,51.4L1288.1,43.4M1295.6,53.5L1297.6,47.9M1305.3,57.1L1307.4,51.5M1314.8,60.8L1317.1,55.3M1324.3,64.9L1326.7,59.4M1333.1,70.2L1336.7,62.6M1342.9,73.6L1345.6,68.3M1352.0,78.3L1354.8,73.0M1361.0,83.3L1364.0,78.1M1369.9,88.5L1373.0,83.3M1378.0,94.9L1382.5,87.8M1387.3,99.5L1390.6,94.5M1395.7,105.3L1399.2,100.4M1404.0,111.4L1407.6,106.5M1412.2,117.6L1415.9,112.9M1419.4,125.0L1424.8,118.5M1428.0,130.7L1432.0,126.2M1435.7,137.6L1439.8,133.1M1443.2,144.6L1447.4,140.3M1450.5,151.8L1454.8,147.6M1456.8,160.0L1462.9,154.3M1464.6,166.8L1469.1,162.8M1471.3,174.6L1475.9,170.7M1477.9,182.5L1482.6,178.7M1484.2,190.6L1489.0,186.9M1489.4,199.5L1496.2,194.6M1496.3,207.2L1501.3,203.8M1502.0,215.7L1507.1,212.4M1507.6,224.4L1512.7,221.3M1512.8,233.2L1518.0,230.2M1516.9,242.7L1524.2,238.7M1522.7,251.2L1528.1,248.5M1527.4,260.4L1532.8,257.8M1531.7,269.7L1537.2,267.2M1535.9,279.1L1541.4,276.8M1538.7,289.1L1546.5,286.0M1543.4,298.2L1549.1,296.2M1546.9,307.9L1552.5,306.0M1550.0,317.7L1555.8,315.9M1553.0,327.6L1558.7,325.9M1554.5,337.8L1562.6,335.7M1558.1,347.5L1563.9,346.1M1560.3,357.5L1566.1,356.3M1562.2,367.6L1568.1,366.6M1563.9,377.8L1569.8,376.9M1564.1,388.1L1572.4,387.0M1566.4,398.2L1572.4,397.5M1567.3,408.4L1573.3,407.9M1568.0,418.7L1574.0,418.3M1568.4,428.9L1574.4,428.8M1567.3,439.2L1575.7,439.2M1568.4,449.5L1574.4,449.6M1568.0,459.7L1574.0,460.1M1567.3,470.0L1573.3,470.5M1566.4,480.2L1572.4,480.9M1564.1,490.3L1572.4,491.4M1563.9,500.6L1569.8,501.5M1562.2,510.8L1568.1,511.8M1560.3,520.9L1566.1,522.1M1558.1,530.9L1563.9,532.3M1554.5,540.6L1562.6,542.7M1553.0,550.8L1558.7,552.5M1550.0,560.7L1555.8,562.5M1546.9,570.5L1552.5,572.4M1543.4,580.2L1549.1,582.2M1538.7,589.3L1546.5,592.4M1535.9,599.3L1541.4,601.6M1531.7,608.7L1537.2,611.2M1527.4,618.0L1532.8,620.6M1522.7,627.2L1528.1,629.9M1516.9,635.7L1524.2,639.7M1512.8,645.2L1518.0,648.2M1507.6,654.0L1512.7,657.1M1502.0,662.7L1507.1,666.0M1496.3,671.2L1501.3,674.6M1489.4,678.9L1496.2,683.8M1484.2,687.8L1489.0,691.5M1477.9,695.9L1482.6,699.7M1471.3,703.8L1475.9,707.7M1464.6,711.6L1469.1,715.6M1456.8,718.4L1462.9,724.1M1450.5,726.6L1454.8,730.8M1443.2,733.8L1447.4,738.1M1435.7,740.8L1439.8,745.3M1428.0,747.7L1432.0,752.2M1419.4,753.4L1424.8,759.9M1412.2,760.8L1415.9,765.5M1404.0,767.0L1407.6,771.9M1395.7,773.1L1399.2,778.0M1387.3,778.9L1390.6,783.9M1378.0,783.5L1382.5,790.6M1369.9,789.9L1373.0,795.1M1361.0,795.1L1364.0,800.3M1352.0,800.1L1354.8,805.4M1342.9,804.8L1345.6,810.1M1333.1,808.2L1336.7,815.8M1324.3,813.5L1326.7,819.0M1314.8,817.6L1317.1,823.1M1305.3,821.3L1307.4,826.9M1295.6,824.9L1297.6,830.5M1285.5,827.0L1288.1,835.0M1276.1,831.2L1277.8,837.0M1266.2,834.0L1267.7,839.8M1256.2,836.6L1257.6,842.4M1246.2,838.9L1247.5,844.8M1235.9,839.8L1237.5,848.0M1226.0,842.8L1227.0,848.7M1215.9,844.3L1216.7,850.2M1205.7,845.6L1206.3,851.5M1195.4,846.6L1196.0,852.6M1185.1,846.2L1185.6,854.6M1174.9,847.9L1175.1,853.9M1164.6,848.2L1164.7,854.2M1154.4,848.2L1154.3,854.2M1144.1,847.9L1143.9,853.9M1133.9,846.2L1133.4,854.6M1123.6,846.6L1123.0,852.6M1113.3,845.6L1112.7,851.5M1103.1,844.3L1102.3,850.2M1093.0,842.8L1092.0,848.7M1083.1,839.8L1081.5,848.0M1072.8,838.9L1071.5,844.8M1062.8,836.6L1061.4,842.4M1052.8,834.0L1051.3,839.8M1042.9,831.2L1041.2,837.0M1033.5,827.0L1030.9,835.0M1023.4,824.9L1021.4,830.5M1013.7,821.3L1011.6,826.9M1004.2,817.6L1001.9,823.1M994.7,813.5L992.3,819.0M985.9,808.2L982.3,815.8M976.1,804.8L973.4,810.1M967.0,800.1L964.2,805.4M958.0,795.1L955.0,800.3M949.1,789.9L946.0,795.1M941.0,783.5L936.5,790.6M931.7,778.9L928.4,783.9M923.3,773.1L919.8,778.0M915.0,767.0L911.4,771.9M906.8,760.8L903.1,765.5M899.6,753.4L894.2,759.9M891.0,747.7L887.0,752.2M883.3,740.8L879.2,745.3M875.8,733.8L871.6,738.1M868.5,726.6L864.2,730.8M862.2,718.4L856.1,724.1M854.4,711.6L849.9,715.6M847.7,703.8L843.1,707.7M841.1,695.9L836.4,699.7M834.8,687.8L830.0,691.5M829.6,678.9L822.8,683.8M822.7,671.2L817.7,674.6M817.0,662.7L811.9,666.0M811.4,654.0L806.3,657.1M806.2,645.2L801.0,648.2M802.1,635.7L794.8,639.7M796.3,627.2L790.9,629.9M791.6,618.0L786.2,620.6M787.3,608.7L781.8,611.2M783.1,599.3L777.6,601.6M780.3,589.3L772.5,592.4M775.6,580.2L769.9,582.2M772.1,570.5L766.5,572.4M769.0,560.7L763.2,562.5M766.0,550.8L760.3,552.5M764.5,540.6L756.4,542.7M760.9,530.9L755.1,532.3M758.7,520.9L752.9,522.1M756.8,510.8L750.9,511.8M755.1,500.6L749.2,501.5M754.9,490.3L746.6,491.4M752.6,480.2L746.6,480.9M751.7,470.0L745.7,470.5M751.0,459.7L745.0,460.1M750.6,449.5L744.6,449.6M1542.7,439.2L1546.5,439.2M1542.5,425.8L1545.1,425.7M1541.8,412.5L1544.4,412.3M1540.6,399.1L1543.2,398.9M1539.0,385.9L1541.5,385.5M1536.9,372.7L1540.6,372.0M1534.3,359.5L1536.9,359.0M1531.3,346.5L1533.8,345.9M1527.9,333.6L1530.4,332.9M1523.9,320.8L1526.4,320.0M1519.6,308.1L1523.2,306.8M1514.8,295.7L1517.2,294.7M1509.6,283.3L1511.9,282.3M1503.9,271.2L1506.3,270.1M1497.8,259.3L1500.1,258.1M1491.4,247.6L1494.7,245.7M1484.5,236.1L1486.7,234.8M1477.2,224.9L1479.3,223.5M1469.5,214.0L1471.6,212.4M1461.5,203.3L1463.5,201.7M1453.0,192.9L1456.0,190.4M1444.3,182.8L1446.2,181.0M1435.2,173.0L1437.0,171.2M1425.7,163.5L1427.5,161.7M1415.9,154.4L1417.7,152.5M1405.8,145.7L1408.3,142.7M1395.4,137.2L1397.0,135.2M1384.7,129.2L1386.3,127.1M1373.8,121.5L1375.2,119.4M1362.6,114.2L1363.9,112.0M1351.1,107.3L1353.0,104.0M1339.4,100.9L1340.6,98.6M1327.5,94.8L1328.6,92.4M1315.4,89.1L1316.4,86.8M1303.0,83.9L1304.0,81.5M1290.6,79.1L1291.9,75.5M1277.9,74.8L1278.7,72.3M1265.1,70.8L1265.8,68.3M1252.2,67.4L1252.8,64.9M1239.2,64.4L1239.7,61.8M1226.0,61.8L1226.7,58.1M1212.8,59.7L1213.2,57.2M1199.6,58.1L1199.8,55.5M1186.2,56.9L1186.4,54.3M1172.9,56.2L1173.0,53.6M1159.5,56.0L1159.5,52.2M1146.1,56.2L1146.0,53.6M1132.8,56.9L1132.6,54.3M1119.4,58.1L1119.2,55.5M1106.2,59.7L1105.8,57.2M1093.0,61.8L1092.3,58.1M1079.8,64.4L1079.3,61.8M1066.8,67.4L1066.2,64.9M1053.9,70.8L1053.2,68.3M1041.1,74.8L1040.3,72.3M1028.4,79.1L1027.1,75.5M1016.0,83.9L1015.0,81.5M1003.6,89.1L1002.6,86.8M991.5,94.8L990.4,92.4M979.6,100.9L978.4,98.6M967.9,107.3L966.0,104.0M956.4,114.2L955.1,112.0M945.2,121.5L943.8,119.4M934.3,129.2L932.7,127.1M923.6,137.2L922.0,135.2M913.2,145.7L910.7,142.7M903.1,154.4L901.3,152.5M893.3,163.5L891.5,161.7M883.8,173.0L882.0,171.2M874.7,182.8L872.8,181.0M866.0,192.9L863.0,190.4M857.5,203.3L855.5,201.7M849.5,214.0L847.4,212.4M841.8,224.9L839.7,223.5M834.5,236.1L832.3,234.8M827.6,247.6L824.3,245.7M821.2,259.3L818.9,258.1M815.1,271.2L812.7,270.1M809.4,283.3L807.1,282.3M804.2,295.7L801.8,294.7M799.4,308.1L795.8,306.8M795.1,320.8L792.6,320.0M791.1,333.6L788.6,332.9M787.7,346.5L785.2,345.9M784.7,359.5L782.1,359.0M782.1,372.7L778.4,372.0M780.0,385.9L777.5,385.5M778.4,399.1L775.8,398.9M777.2,412.5L774.6,412.3M776.5,425.8L773.9,425.7M776.3,439.2L772.5,439.2M776.5,452.6L773.9,452.7M777.2,465.9L774.6,466.1M778.4,479.3L775.8,479.5M780.0,492.5L777.5,492.9M782.1,505.7L778.4,506.4M784.7,518.9L782.1,519.4M787.7,531.9L785.2,532.5M791.1,544.8L788.6,545.5M795.1,557.6L792.6,558.4M799.4,570.3L795.8,571.6M804.2,582.7L801.8,583.7M809.4,595.1L807.1,596.1M815.1,607.2L812.7,608.3M821.2,619.1L818.9,620.3M827.6,630.8L824.3,632.7M834.5,642.3L832.3,643.6M841.8,653.5L839.7,654.9M849.5,664.4L847.4,666.0M857.5,675.1L855.5,676.7M866.0,685.5L863.0,688.0M874.7,695.6L872.8,697.4M883.8,705.4L882.0,707.2M893.3,714.9L891.5,716.7M903.1,724.0L901.3,725.9M913.2,732.7L910.7,735.7M923.6,741.2L922.0,743.2M934.3,749.2L932.7,751.3M945.2,756.9L943.8,759.0M956.4,764.2L955.1,766.4M967.9,771.1L966.0,774.4M979.6,777.5L978.4,779.8M991.5,783.6L990.4,786.0M1003.6,789.3L1002.6,791.6M1016.0,794.5L1015.0,796.9M1028.4,799.3L1027.1,802.9M1041.1,803.6L1040.3,806.1M1053.9,807.6L1053.2,810.1M1066.8,811.0L1066.2,813.5M1079.8,814.0L1079.3,816.6M1093.0,816.6L1092.3,820.3M1106.2,818.7L1105.8,821.2M1119.4,820.3L1119.2,822.9M1132.8,821.5L1132.6,824.1M1146.1,822.2L1146.0,824.8M1159.5,822.4L1159.5,826.2M1172.9,822.2L1173.0,824.8M1186.2,821.5L1186.4,824.1M1199.6,820.3L1199.8,822.9M1212.8,818.7L1213.2,821.2M1226.0,816.6L1226.7,820.3M1239.2,814.0L1239.7,816.6M1252.2,811.0L1252.8,813.5M1265.1,807.6L1265.8,810.1M1277.9,803.6L1278.7,806.1M1290.6,799.3L1291.9,802.9M1303.0,794.5L1304.0,796.9M1315.4,789.3L1316.4,791.6M1327.5,783.6L1328.6,786.0M1339.4,777.5L1340.6,779.8M1351.1,771.1L1353.0,774.4M1362.6,764.2L1363.9,766.4M1373.8,756.9L1375.2,759.0M1384.7,749.2L1386.3,751.3M1395.4,741.2L1397.0,743.2M1405.8,732.7L1408.3,735.7M1415.9,724.0L1417.7,725.9M1425.7,714.9L1427.5,716.7M1435.2,705.4L1437.0,707.2M1444.3,695.6L1446.2,697.4M1453.0,685.5L1456.0,688.0M1461.5,675.1L1463.5,676.7M1469.5,664.4L1471.6,666.0M1477.2,653.5L1479.3,654.9M1484.5,642.3L1486.7,643.6M1491.4,630.8L1494.7,632.7M1497.8,619.1L1500.1,620.3M1503.9,607.2L1506.3,608.3M1509.6,595.1L1511.9,596.1M1514.8,582.7L1517.2,583.7M1519.6,570.3L1523.2,571.6M1523.9,557.6L1526.4,558.4M1527.9,544.8L1530.4,545.5M1531.3,531.9L1533.8,532.5M1534.3,518.9L1536.9,519.4M1536.9,505.7L1540.6,506.4M1539.0,492.5L1541.5,492.9M1540.6,479.3L1543.2,479.5M1541.8,465.9L1544.4,466.1M1542.5,452.6L1545.1,452.7"/>
<path d="M775.5,271.5L782.3,256.8" stroke="#000" stroke-opacity="0.4" stroke-width="0.9" fill="none"/>
<path d="M785.0,251.3L778.7,255.9L785.2,259.1Z" fill="#000" fill-opacity="0.42"/>
<path d="M788.8,601.1L795.3,615.3" stroke="#000" stroke-opacity="0.4" stroke-width="0.9" fill="none"/>
<path d="M798.0,620.6L791.8,616.2L798.3,613.1Z" fill="#000" fill-opacity="0.42"/>
<circle cx="1521.2" cy="439.2" r="7.2" fill="none" stroke="#000" stroke-opacity="0.25" stroke-width="1"/>
<path d="M1528.1,424.4A7.4,7.4 0 0 0 1528.4,439.2" fill="none" stroke="#000" stroke-opacity="0.25" stroke-width="1"/>
<path d="M1528.1,454.0A7.4,7.4 0 0 1 1528.4,439.2" fill="none" stroke="#000" stroke-opacity="0.25" stroke-width="1"/>
<g font-family="Liberation Sans" font-size="9" fill="#000" fill-opacity="0.42" text-anchor="middle">
<text transform="translate(741.2,439.2) rotate(-90.00)" y="3.2">0,0</text>
<text transform="translate(756.2,439.2) rotate(-90.00)" y="3.2">0,0</text>
<text transform="translate(744.5,386.8) rotate(-82.80)" y="3.2">0,01</text>
<text transform="translate(759.4,388.7) rotate(-82.80)" y="3.2">0,49</text>
<text transform="translate(754.3,335.2) rotate(-75.60)" y="3.2">0,02</text>
<text transform="translate(768.9,338.9) rotate(-75.60)" y="3.2">0,48</text>
<text transform="translate(770.6,285.2) rotate(-68.40)" y="3.2">0,03</text>
<text transform="translate(784.5,290.7) rotate(-68.40)" y="3.2">0,47</text>
<text transform="translate(792.9,237.7) rotate(-61.20)" y="3.2">0,04</text>
<text transform="translate(806.1,244.9) rotate(-61.20)" y="3.2">0,46</text>
<text transform="translate(821.1,193.3) rotate(-54.00)" y="3.2">0,05</text>
<text transform="translate(833.2,202.1) rotate(-54.00)" y="3.2">0,45</text>
<text transform="translate(854.6,152.9) rotate(-46.80)" y="3.2">0,06</text>
<text transform="translate(865.5,163.1) rotate(-46.80)" y="3.2">0,44</text>
<text transform="translate(892.9,116.9) rotate(-39.60)" y="3.2">0,07</text>
<text transform="translate(902.4,128.5) rotate(-39.60)" y="3.2">0,43</text>
<text transform="translate(935.4,86.0) rotate(-32.40)" y="3.2">0,08</text>
<text transform="translate(943.4,98.7) rotate(-32.40)" y="3.2">0,42</text>
<text transform="translate(981.4,60.7) rotate(-25.20)" y="3.2">0,09</text>
<text transform="translate(987.8,74.3) rotate(-25.20)" y="3.2">0,41</text>
<text transform="translate(1030.2,41.4) rotate(-18.00)" y="3.2">0,1</text>
<text transform="translate(1034.9,55.6) rotate(-18.00)" y="3.2">0,4</text>
<text transform="translate(1081.1,28.3) rotate(-10.80)" y="3.2">0,11</text>
<text transform="translate(1083.9,43.0) rotate(-10.80)" y="3.2">0,39</text>
<text transform="translate(1133.2,21.7) rotate(-3.60)" y="3.2">0,12</text>
<text transform="translate(1134.2,36.7) rotate(-3.60)" y="3.2">0,38</text>
<text transform="translate(1185.8,21.7) rotate(3.60)" y="3.2">0,13</text>
<text transform="translate(1184.8,36.7) rotate(3.60)" y="3.2">0,37</text>
<text transform="translate(1237.9,28.3) rotate(10.80)" y="3.2">0,14</text>
<text transform="translate(1235.1,43.0) rotate(10.80)" y="3.2">0,36</text>
<text transform="translate(1288.8,41.4) rotate(18.00)" y="3.2">0,15</text>
<text transform="translate(1284.1,55.6) rotate(18.00)" y="3.2">0,35</text>
<text transform="translate(1337.6,60.7) rotate(25.20)" y="3.2">0,16</text>
<text transform="translate(1331.2,74.3) rotate(25.20)" y="3.2">0,34</text>
<text transform="translate(1383.6,86.0) rotate(32.40)" y="3.2">0,17</text>
<text transform="translate(1375.6,98.7) rotate(32.40)" y="3.2">0,33</text>
<text transform="translate(1426.1,116.9) rotate(39.60)" y="3.2">0,18</text>
<text transform="translate(1416.6,128.5) rotate(39.60)" y="3.2">0,32</text>
<text transform="translate(1464.4,152.9) rotate(46.80)" y="3.2">0,19</text>
<text transform="translate(1453.5,163.1) rotate(46.80)" y="3.2">0,31</text>
<text transform="translate(1497.9,193.3) rotate(54.00)" y="3.2">0,2</text>
<text transform="translate(1485.8,202.1) rotate(54.00)" y="3.2">0,3</text>
<text transform="translate(1526.1,237.7) rotate(61.20)" y="3.2">0,21</text>
<text transform="translate(1512.9,244.9) rotate(61.20)" y="3.2">0,29</text>
<text transform="translate(1548.4,285.2) rotate(68.40)" y="3.2">0,22</text>
<text transform="translate(1534.5,290.7) rotate(68.40)" y="3.2">0,28</text>
<text transform="translate(1564.7,335.2) rotate(75.60)" y="3.2">0,23</text>
<text transform="translate(1550.1,338.9) rotate(75.60)" y="3.2">0,27</text>
<text transform="translate(1574.5,386.8) rotate(82.80)" y="3.2">0,24</text>
<text transform="translate(1559.6,388.7) rotate(82.80)" y="3.2">0,26</text>
<text transform="translate(1577.8,439.2) rotate(90.00)" y="3.2">0,25</text>
<text transform="translate(1562.8,439.2) rotate(90.00)" y="3.2">0,25</text>
<text transform="translate(1574.5,491.6) rotate(97.20)" y="3.2">0,26</text>
<text transform="translate(1559.6,489.7) rotate(97.20)" y="3.2">0,24</text>
<text transform="translate(1564.7,543.2) rotate(104.40)" y="3.2">0,27</text>
<text transform="translate(1550.1,539.5) rotate(104.40)" y="3.2">0,23</text>
<text transform="translate(1548.4,593.2) rotate(111.60)" y="3.2">0,28</text>
<text transform="translate(1534.5,587.7) rotate(111.60)" y="3.2">0,22</text>
<text transform="translate(1526.1,640.7) rotate(118.80)" y="3.2">0,29</text>
<text transform="translate(1512.9,633.5) rotate(118.80)" y="3.2">0,21</text>
<text transform="translate(1497.9,685.1) rotate(126.00)" y="3.2">0,3</text>
<text transform="translate(1485.8,676.3) rotate(126.00)" y="3.2">0,2</text>
<text transform="translate(1464.4,725.5) rotate(133.20)" y="3.2">0,31</text>
<text transform="translate(1453.5,715.3) rotate(133.20)" y="3.2">0,19</text>
<text transform="translate(1426.1,761.5) rotate(140.40)" y="3.2">0,32</text>
<text transform="translate(1416.6,749.9) rotate(140.40)" y="3.2">0,18</text>
<text transform="translate(1383.6,792.4) rotate(147.60)" y="3.2">0,33</text>
<text transform="translate(1375.6,779.7) rotate(147.60)" y="3.2">0,1</text>
<text transform="translate(1337.6,817.7) rotate(154.80)" y="3.2">0,34</text>
<text transform="translate(1331.2,804.1) rotate(154.80)" y="3.2">0,16</text>
<text transform="translate(1288.8,837.0) rotate(162.00)" y="3.2">0,35</text>
<text transform="translate(1284.1,822.8) rotate(162.00)" y="3.2">0,15</text>
<text transform="translate(1237.9,850.1) rotate(169.20)" y="3.2">0,36</text>
<text transform="translate(1235.1,835.4) rotate(169.20)" y="3.2">0,14</text>
<text transform="translate(1185.8,856.7) rotate(176.40)" y="3.2">0,37</text>
<text transform="translate(1184.8,841.7) rotate(176.40)" y="3.2">0,13</text>
<text transform="translate(1133.2,856.7) rotate(183.60)" y="3.2">0,38</text>
<text transform="translate(1134.2,841.7) rotate(183.60)" y="3.2">0,12</text>
<text transform="translate(1081.1,850.1) rotate(190.80)" y="3.2">0,39</text>
<text transform="translate(1083.9,835.4) rotate(190.80)" y="3.2">0,11</text>
<text transform="translate(1030.2,837.0) rotate(198.00)" y="3.2">0,4</text>
<text transform="translate(1034.9,822.8) rotate(198.00)" y="3.2">0,1</text>
<text transform="translate(981.4,817.7) rotate(205.20)" y="3.2">0,41</text>
<text transform="translate(987.8,804.1) rotate(205.20)" y="3.2">0,09</text>
<text transform="translate(935.4,792.4) rotate(212.40)" y="3.2">0,42</text>
<text transform="translate(943.4,779.7) rotate(212.40)" y="3.2">0,08</text>
<text transform="translate(892.9,761.5) rotate(219.60)" y="3.2">0,43</text>
<text transform="translate(902.4,749.9) rotate(219.60)" y="3.2">0,07</text>
<text transform="translate(854.6,725.5) rotate(226.80)" y="3.2">0,44</text>
<text transform="translate(865.5,715.3) rotate(226.80)" y="3.2">0,06</text>
<text transform="translate(821.1,685.1) rotate(234.00)" y="3.2">0,45</text>
<text transform="translate(833.2,676.3) rotate(234.00)" y="3.2">0,05</text>
<text transform="translate(792.9,640.7) rotate(241.20)" y="3.2">0,46</text>
<text transform="translate(806.1,633.5) rotate(241.20)" y="3.2">0,04</text>
<text transform="translate(770.6,593.2) rotate(248.40)" y="3.2">0,47</text>
<text transform="translate(784.5,587.7) rotate(248.40)" y="3.2">0,03</text>
<text transform="translate(754.3,543.2) rotate(255.60)" y="3.2">0,48</text>
<text transform="translate(768.9,539.5) rotate(255.60)" y="3.2">0,02</text>
<text transform="translate(744.5,491.6) rotate(262.80)" y="3.2">0,49</text>
<text transform="translate(759.4,489.7) rotate(262.80)" y="3.2">0,01</text>
<text transform="translate(774.8,507.0) rotate(260.00)" y="3.2">-170</text>
<text transform="translate(792.5,572.8) rotate(250.00)" y="3.2">-160</text>
<text transform="translate(821.2,634.5) rotate(240.00)" y="3.2">-150</text>
<text transform="translate(860.3,690.3) rotate(230.00)" y="3.2">-140</text>
<text transform="translate(908.4,738.4) rotate(220.00)" y="3.2">-130</text>
<text transform="translate(964.2,777.5) rotate(210.00)" y="3.2">-120</text>
<text transform="translate(1025.9,806.2) rotate(200.00)" y="3.2">-110</text>
<text transform="translate(1091.7,823.9) rotate(190.00)" y="3.2">-100</text>
<text transform="translate(1159.5,829.8) rotate(180.00)" y="3.2">-90</text>
<text transform="translate(1227.3,823.9) rotate(170.00)" y="3.2">-80</text>
<text transform="translate(1293.1,806.2) rotate(160.00)" y="3.2">-70</text>
<text transform="translate(1354.8,777.5) rotate(150.00)" y="3.2">-60</text>
<text transform="translate(1410.6,738.4) rotate(140.00)" y="3.2">-50</text>
<text transform="translate(1458.7,690.3) rotate(130.00)" y="3.2">-40</text>
<text transform="translate(1497.8,634.5) rotate(120.00)" y="3.2">-30</text>
<text transform="translate(1526.5,572.8) rotate(110.00)" y="3.2">-20</text>
<text transform="translate(1544.2,507.0) rotate(100.00)" y="3.2">-10</text>
<text transform="translate(1550.1,439.2) rotate(90.00)" y="3.2">0,0</text>
<text transform="translate(1544.2,371.4) rotate(80.00)" y="3.2">10</text>
<text transform="translate(1526.5,305.6) rotate(70.00)" y="3.2">20</text>
<text transform="translate(1497.8,243.9) rotate(60.00)" y="3.2">30</text>
<text transform="translate(1458.7,188.1) rotate(50.00)" y="3.2">40</text>
<text transform="translate(1410.6,140.0) rotate(40.00)" y="3.2">50</text>
<text transform="translate(1354.8,100.9) rotate(30.00)" y="3.2">60</text>
<text transform="translate(1293.1,72.2) rotate(20.00)" y="3.2">70</text>
<text transform="translate(1227.3,54.5) rotate(10.00)" y="3.2">80</text>
<text transform="translate(1159.5,48.6) rotate(0.00)" y="3.2">90</text>
<text transform="translate(1091.7,54.5) rotate(-10.00)" y="3.2">100</text>
<text transform="translate(1025.9,72.2) rotate(-20.00)" y="3.2">110</text>
<text transform="translate(964.2,100.9) rotate(-30.00)" y="3.2">120</text>
<text transform="translate(908.4,140.0) rotate(-40.00)" y="3.2">130</text>
<text transform="translate(860.3,188.1) rotate(-50.00)" y="3.2">140</text>
<text transform="translate(821.2,243.9) rotate(-60.00)" y="3.2">150</text>
<text transform="translate(792.5,305.6) rotate(-70.00)" y="3.2">160</text>
<text transform="translate(774.8,371.4) rotate(-80.00)" y="3.2">170</text>
<text transform="translate(768.9,439.2) rotate(-90.00)" y="3.2">±180</text>
</g>
<g font-family="Liberation Sans" font-size="9.5" fill="#000" fill-opacity="0.42">
<text transform="translate(801.1,437.0) rotate(-90)">0</text>
<text transform="translate(855.9,437.0) rotate(-90)">0,1</text>
<text transform="translate(911.8,437.0) rotate(-90)">0,2</text>
<text transform="translate(959.1,437.0) rotate(-90)">0,3</text>
<text transform="translate(999.6,437.0) rotate(-90)">0,4</text>
<text transform="translate(1034.7,437.0) rotate(-90)">0,5</text>
<text transform="translate(1065.5,437.0) rotate(-90)">0,6</text>
<text transform="translate(1092.6,437.0) rotate(-90)">0,7</text>
<text transform="translate(1116.7,437.0) rotate(-90)">0,8</text>
<text transform="translate(1138.3,437.0) rotate(-90)">0,9</text>
<text transform="translate(1157.7,437.0) rotate(-90)">1,0</text>
<text transform="translate(1191.2,437.0) rotate(-90)">1,2</text>
<text transform="translate(1219.2,437.0) rotate(-90)">1,4</text>
<text transform="translate(1242.8,437.0) rotate(-90)">1,6</text>
<text transform="translate(1263.1,437.0) rotate(-90)">1,8</text>
<text transform="translate(1280.7,437.0) rotate(-90)">2,0</text>
<text transform="translate(1342.2,437.0) rotate(-90)">3,0</text>
<text transform="translate(1379.0,437.0) rotate(-90)">4,0</text>
<text transform="translate(1403.6,437.0) rotate(-90)">5,0</text>
<text transform="translate(1459.5,437.0) rotate(-90)">10</text>
<text transform="translate(1491.5,437.0) rotate(-90)">20</text>
<text transform="translate(1512.1,437.0) rotate(-90)">50</text>
<text text-anchor="end" transform="translate(798.9,366.3) rotate(-168.58)" y="-1.5">0,1</text>
<text transform="translate(798.9,512.1) rotate(348.58)" y="-1.5">0,1</text>
<text text-anchor="end" transform="translate(819.9,297.7) rotate(-157.38)" y="-1.5">0,2</text>
<text transform="translate(819.9,580.7) rotate(337.38)" y="-1.5">0,2</text>
<text text-anchor="end" transform="translate(852.4,236.7) rotate(-146.60)" y="-1.5">0,3</text>
<text transform="translate(852.4,641.7) rotate(326.60)" y="-1.5">0,3</text>
<text text-anchor="end" transform="translate(893.1,185.5) rotate(-136.40)" y="-1.5">0,4</text>
<text transform="translate(893.1,692.9) rotate(316.40)" y="-1.5">0,4</text>
<text text-anchor="end" transform="translate(938.8,144.9) rotate(-126.87)" y="-1.5">0,5</text>
<text transform="translate(938.8,733.5) rotate(306.87)" y="-1.5">0,5</text>
<text text-anchor="end" transform="translate(986.4,114.6) rotate(-118.07)" y="-1.5">0,6</text>
<text transform="translate(986.4,763.8) rotate(298.07)" y="-1.5">0,6</text>
<text text-anchor="end" transform="translate(1033.6,93.5) rotate(-110.02)" y="-1.5">0,7</text>
<text transform="translate(1033.6,784.9) rotate(290.02)" y="-1.5">0,7</text>
<text text-anchor="end" transform="translate(1078.7,80.3) rotate(-102.68)" y="-1.5">0,8</text>
<text transform="translate(1078.7,798.1) rotate(282.68)" y="-1.5">0,8</text>
<text text-anchor="end" transform="translate(1120.9,73.3) rotate(-96.03)" y="-1.5">0,9</text>
<text transform="translate(1120.9,805.1) rotate(276.03)" y="-1.5">0,9</text>
<text text-anchor="end" transform="translate(1159.5,71.3) rotate(-90.00)" y="-1.5">1,0</text>
<text transform="translate(1159.5,807.1) rotate(270.00)" y="-1.5">1,0</text>
<text text-anchor="end" transform="translate(1225.8,77.3) rotate(-79.61)" y="-1.5">1,2</text>
<text transform="translate(1225.8,801.1) rotate(259.61)" y="-1.5">1,2</text>
<text text-anchor="end" transform="translate(1278.8,91.2) rotate(-71.08)" y="-1.5">1,4</text>
<text transform="translate(1278.8,787.2) rotate(251.08)" y="-1.5">1,4</text>
<text text-anchor="end" transform="translate(1320.7,108.5) rotate(-64.01)" y="-1.5">1,6</text>
<text transform="translate(1320.7,769.9) rotate(244.01)" y="-1.5">1,6</text>
<text text-anchor="end" transform="translate(1353.9,126.8) rotate(-58.11)" y="-1.5">1,8</text>
<text transform="translate(1353.9,751.6) rotate(238.11)" y="-1.5">1,8</text>
<text text-anchor="end" transform="translate(1380.2,144.9) rotate(-53.13)" y="-1.5">2,0</text>
<text transform="translate(1380.2,733.5) rotate(233.13)" y="-1.5">2,0</text>
<text text-anchor="end" transform="translate(1453.8,218.5) rotate(-36.87)" y="-1.5">3,0</text>
<text transform="translate(1453.8,659.9) rotate(216.87)" y="-1.5">3,0</text>
<text text-anchor="end" transform="translate(1484.1,266.1) rotate(-28.07)" y="-1.5">4,0</text>
<text transform="translate(1484.1,612.3) rotate(208.07)" y="-1.5">4,0</text>
<text text-anchor="end" transform="translate(1499.1,297.7) rotate(-22.62)" y="-1.5">5,0</text>
<text transform="translate(1499.1,580.7) rotate(202.62)" y="-1.5">5,0</text>
<text text-anchor="end" transform="translate(1520.1,366.3) rotate(-11.42)" y="-1.5">10</text>
<text transform="translate(1520.1,512.1) rotate(191.42)" y="-1.5">10</text>
<text text-anchor="end" transform="translate(1525.6,402.5) rotate(-5.72)" y="-1.5">20</text>
<text transform="translate(1525.6,475.9) rotate(185.72)" y="-1.5">20</text>
<text text-anchor="end" transform="translate(1527.1,424.5) rotate(-2.29)" y="-1.5">50</text>
<text transform="translate(1527.1,453.9) rotate(182.29)" y="-1.5">50</text>
<text transform="translate(1165.5,136.8) rotate(-10.39)" x="2" y="-2">0,2</text>
<text text-anchor="end" transform="translate(1165.5,741.6) rotate(190.39)" x="-2" y="-2">0,2</text>
<text transform="translate(1163.2,475.7) rotate(-11.42)" x="2" y="-2">0,2</text>
<text text-anchor="end" transform="translate(1163.2,402.7) rotate(191.42)" x="-2" y="-2">0,2</text>
<text transform="translate(1179.4,189.9) rotate(-18.92)" x="2" y="-2">0,4</text>
<text text-anchor="end" transform="translate(1179.4,688.5) rotate(198.92)" x="-2" y="-2">0,4</text>
<text transform="translate(1173.7,510.1) rotate(-22.62)" x="2" y="-2">0,4</text>
<text text-anchor="end" transform="translate(1173.7,368.3) rotate(202.62)" x="-2" y="-2">0,4</text>
<text transform="translate(1196.8,232.0) rotate(-25.99)" x="2" y="-2">0,6</text>
<text text-anchor="end" transform="translate(1196.8,646.4) rotate(205.99)" x="-2" y="-2">0,6</text>
<text transform="translate(1190.0,540.7) rotate(-33.40)" x="2" y="-2">0,6</text>
<text text-anchor="end" transform="translate(1190.0,337.7) rotate(213.40)" x="-2" y="-2">0,6</text>
<text transform="translate(1215.2,265.2) rotate(-31.89)" x="2" y="-2">0,8</text>
<text text-anchor="end" transform="translate(1215.2,613.2) rotate(211.89)" x="-2" y="-2">0,8</text>
<text transform="translate(1210.4,566.4) rotate(-43.60)" x="2" y="-2">0,8</text>
<text text-anchor="end" transform="translate(1210.4,312.0) rotate(223.60)" x="-2" y="-2">0,8</text>
<text transform="translate(1233.3,291.6) rotate(-36.87)" x="2" y="-2">1,0</text>
<text text-anchor="end" transform="translate(1233.3,586.8) rotate(216.87)" x="-2" y="-2">1,0</text>
</g>
<defs><linearGradient id="fade" gradientUnits="userSpaceOnUse" x1="16" y1="0" x2="182" y2="0"><stop offset="0" stop-color="#000" stop-opacity="0"/><stop offset="1" stop-color="#000" stop-opacity="1"/></linearGradient></defs>
<rect x="235.15" y="172.70" width="3.9" height="16.00" fill="#000"/>
<rect x="235.15" y="205.07" width="3.9" height="16.00" fill="#000"/>
<rect x="235.15" y="237.44" width="3.9" height="16.00" fill="#000"/>
<rect x="235.15" y="269.81" width="3.9" height="16.00" fill="#000"/>
<rect x="235.15" y="302.18" width="3.9" height="16.00" fill="#000"/>
<rect x="235.15" y="334.55" width="3.9" height="16.00" fill="#000"/>
<rect x="235.15" y="366.92" width="3.9" height="16.00" fill="#000"/>
<rect x="235.15" y="399.29" width="3.9" height="16.00" fill="#000"/>
<rect x="235.15" y="431.66" width="3.9" height="16.00" fill="#000"/>
<rect x="235.15" y="658.25" width="3.9" height="16.00" fill="#000"/>
<rect x="235.15" y="690.62" width="3.9" height="16.00" fill="#000"/>
<rect x="16" y="299.5" width="500" height="6.5" fill="url(#fade)"/>
<rect x="16" y="373.5" width="500" height="6.5" fill="url(#fade)"/>
<path d="M535,303.7 H650.1 V364" fill="none" stroke="#000" stroke-width="3.4"/>
<path d="M535,373.6 H576.8 V558.3 H650.1 V505" fill="none" stroke="#000" stroke-width="3.4" stroke-linejoin="miter"/>
<rect x="614.7" y="364.3" width="80.4" height="140.8" fill="#fff" stroke="#000" stroke-width="3.4"/>
<circle cx="523.1" cy="303.2" r="12.3" fill="#fff" stroke="#000" stroke-width="3.4"/>
<circle cx="523.1" cy="374.9" r="12.3" fill="#fff" stroke="#000" stroke-width="3.4"/>
<path d="M262,261.5 H504" stroke="#000" stroke-width="2.9" fill="none"/>
<path d="M242.4,261.5 L271.6,253.1 L265,261.5 L271.6,269.9 Z" fill="#000"/>
<path d="M523.6,261.5 L494.4,253.1 L501,261.5 L494.4,269.9 Z" fill="#000"/>
<path transform="translate(386.0,243.0)" d="M18.7,-52 L6.8,-50.1 L6.9,-48.9 C8.7,-49.1 10.7,-49.3 11.3,-49.1 C12.3,-48.7 12.1,-47.5 11.7,-46.2 L0.6,-5.2 C0,-2.7 0.9,0 3.5,0 C7.2,0 11.2,-4.2 13.9,-8.5 L13,-9.1 C11.2,-6.5 8.7,-3.7 7.1,-3.4 C6,-3.2 5.9,-4.4 6.3,-5.9 Z"/>
<text transform="translate(114,353) scale(1.11,1)" font-family="Liberation Serif" font-style="italic" font-size="62" fill="#000">Z</text>
<text transform="translate(150.6,363) scale(0.97,1)" font-family="Liberation Sans" font-style="normal" font-size="48.5" fill="#000" stroke="#000" stroke-width="0.3">0</text>
<text transform="translate(627,446.8) scale(1.085,1)" font-family="Liberation Serif" font-style="italic" font-size="62" fill="#000">Z</text>
<text transform="translate(662.5,461.9) scale(1.03,1)" font-family="Liberation Serif" font-style="italic" font-size="49" fill="#000">L</text>
<path transform="translate(168.5,504.7)" d="M0,-41.3 L15.7,-41.3 L15.7,-40.5 C14,-40.4 12.9,-40.3 12.2,-39.9 C11.4,-39.4 11.2,-38.8 11.3,-37.6 L8.0,-9.8 L29.6,-38.6 C30.2,-39.5 29.6,-40 28.6,-40.2 C27.4,-40.4 25.8,-40.5 24.2,-40.5 L24.2,-41.3 L36.5,-41.3 L36.5,-40.5 C35.2,-40.4 34.2,-40.1 33.4,-39.6 C32.8,-39.2 32.5,-38.9 32.1,-38.4 L2.6,0.2 L1.6,0.2 L4.2,-37.8 C4.3,-39 4,-39.6 3.2,-40 C2.4,-40.4 1.2,-40.5 0,-40.5 Z" fill="#990099"/>
<text transform="translate(195.3,518.2) scale(0.988,1)" font-family="Liberation Serif" font-style="italic" font-size="48" fill="#990099">incident</text>
<path transform="translate(153.0,623.2)" d="M0,-41.3 L15.7,-41.3 L15.7,-40.5 C14,-40.4 12.9,-40.3 12.2,-39.9 C11.4,-39.4 11.2,-38.8 11.3,-37.6 L8.0,-9.8 L29.6,-38.6 C30.2,-39.5 29.6,-40 28.6,-40.2 C27.4,-40.4 25.8,-40.5 24.2,-40.5 L24.2,-41.3 L36.5,-41.3 L36.5,-40.5 C35.2,-40.4 34.2,-40.1 33.4,-39.6 C32.8,-39.2 32.5,-38.9 32.1,-38.4 L2.6,0.2 L1.6,0.2 L4.2,-37.8 C4.3,-39 4,-39.6 3.2,-40 C2.4,-40.4 1.2,-40.5 0,-40.5 Z" fill="#990099"/>
<text transform="translate(179.3,637.6) scale(1.003,1)" font-family="Liberation Serif" font-style="italic" font-size="48" fill="#990099">reflected</text>
<path d="M164.1,535.9 H305" stroke="#990099" stroke-width="3.6" fill="none"/>
<path d="M324.8,535.9 L296.4,527.3 L303.4,535.9 L296.4,544.4 Z" fill="#990099"/>
<path d="M178,565.5 H317.5" stroke="#990099" stroke-width="3.6" fill="none"/>
<path d="M156.6,565.5 L185.4,557.1 L179.1,565.5 L185.4,574.3 Z" fill="#990099"/>
<path d="M1302.7,525.4A168.3,168.3 0 1 1 1302.8,352.3" fill="none" stroke="#0000c8" stroke-width="5.8"/>
<path d="M1312,383.1 L1288.6,356.7 L1316.6,348.1 Z" fill="#0000c8"/>
<path d="M1160.2,439.3L1235.9,286.5" stroke="#000" stroke-width="1.25" fill="none"/>
<path d="M1160.2,439.3L1007.9,363.5" stroke="#000" stroke-width="1.25" fill="none"/>
<path d="M1160.2,439.3L1085.5,591.9" stroke="#000" stroke-width="1.25" fill="none"/>
<path d="M1160.2,439.3L1309.1,509.3" stroke="#000" stroke-width="1.25" fill="none"/>
<circle cx="1235.9" cy="286.5" r="16" fill="#000"/>
<circle cx="1007.9" cy="363.5" r="16" fill="#000"/>
<circle cx="1085.5" cy="591.9" r="16" fill="#000"/>
<circle cx="1309.1" cy="509.3" r="16" fill="#00cc00" stroke="#000" stroke-width="2"/>
<circle cx="1160.3" cy="439.3" r="8.4" fill="#c80008"/>
<g transform="translate(0,0)">
<path transform="translate(1255.4,272.7)" d="M18.7,-52 L6.8,-50.1 L6.9,-48.9 C8.7,-49.1 10.7,-49.3 11.3,-49.1 C12.3,-48.7 12.1,-47.5 11.7,-46.2 L0.6,-5.2 C0,-2.7 0.9,0 3.5,0 C7.2,0 11.2,-4.2 13.9,-8.5 L13,-9.1 C11.2,-6.5 8.7,-3.7 7.1,-3.4 C6,-3.2 5.9,-4.4 6.3,-5.9 Z"/>
<rect x="1293" y="240.4" width="39.3" height="3.5"/><rect x="1293" y="251.8" width="39.3" height="3.6"/>
<rect x="1347.8" y="246.4" width="29.8" height="3.4"/>
<text transform="translate(1362.3,239.1) scale(0.97,1)" text-anchor="middle" font-family="Liberation Serif" font-size="53.5">3</text>
<text transform="translate(1362.6,292.6) scale(0.97,1)" text-anchor="middle" font-family="Liberation Serif" font-size="53.5">8</text>
<path transform="translate(1389.7,274.4)" d="M1.6,-40.2 C1.8,-46 5.5,-51.5 9.9,-51.5 C13.5,-51.5 15.8,-46 17.1,-41 L23.1,-15.5 C24.5,-9.5 26.5,-5 30,-5 C32.5,-5 34.2,-7.5 35.2,-10.6 L35.6,-10.2 C35.6,-4.5 32,0.2 27.9,0.2 C23.5,0.2 21.5,-7 20.3,-12.3 L17.9,-22.9 L6.8,-0.4 L0,-0.4 L14.9,-32.1 C14,-37 12.5,-41.5 11.5,-43 C10,-45.5 8,-46 6.4,-45.8 C4,-45.5 2.8,-42.5 2.5,-40 Z"/>
</g>
<g transform="translate(-429,69.9)">
<path transform="translate(1255.4,272.7)" d="M18.7,-52 L6.8,-50.1 L6.9,-48.9 C8.7,-49.1 10.7,-49.3 11.3,-49.1 C12.3,-48.7 12.1,-47.5 11.7,-46.2 L0.6,-5.2 C0,-2.7 0.9,0 3.5,0 C7.2,0 11.2,-4.2 13.9,-8.5 L13,-9.1 C11.2,-6.5 8.7,-3.7 7.1,-3.4 C6,-3.2 5.9,-4.4 6.3,-5.9 Z"/>
<rect x="1293" y="240.4" width="39.3" height="3.5"/><rect x="1293" y="251.8" width="39.3" height="3.6"/>
<rect x="1347.8" y="246.4" width="29.8" height="3.4"/>
<text transform="translate(1362.3,239.1) scale(0.8,1)" text-anchor="middle" font-family="Liberation Serif" font-size="53.5">1</text>
<text transform="translate(1362.6,292.6) scale(0.97,1)" text-anchor="middle" font-family="Liberation Serif" font-size="53.5">4</text>
<path transform="translate(1389.7,274.4)" d="M1.6,-40.2 C1.8,-46 5.5,-51.5 9.9,-51.5 C13.5,-51.5 15.8,-46 17.1,-41 L23.1,-15.5 C24.5,-9.5 26.5,-5 30,-5 C32.5,-5 34.2,-7.5 35.2,-10.6 L35.6,-10.2 C35.6,-4.5 32,0.2 27.9,0.2 C23.5,0.2 21.5,-7 20.3,-12.3 L17.9,-22.9 L6.8,-0.4 L0,-0.4 L14.9,-32.1 C14,-37 12.5,-41.5 11.5,-43 C10,-45.5 8,-46 6.4,-45.8 C4,-45.5 2.8,-42.5 2.5,-40 Z"/>
</g>
<g transform="translate(-352.8,363.8)">
<path transform="translate(1255.4,272.7)" d="M18.7,-52 L6.8,-50.1 L6.9,-48.9 C8.7,-49.1 10.7,-49.3 11.3,-49.1 C12.3,-48.7 12.1,-47.5 11.7,-46.2 L0.6,-5.2 C0,-2.7 0.9,0 3.5,0 C7.2,0 11.2,-4.2 13.9,-8.5 L13,-9.1 C11.2,-6.5 8.7,-3.7 7.1,-3.4 C6,-3.2 5.9,-4.4 6.3,-5.9 Z"/>
<rect x="1293" y="240.4" width="39.3" height="3.5"/><rect x="1293" y="251.8" width="39.3" height="3.6"/>
<rect x="1347.8" y="246.4" width="29.8" height="3.4"/>
<text transform="translate(1362.3,239.1) scale(0.8,1)" text-anchor="middle" font-family="Liberation Serif" font-size="53.5">1</text>
<text transform="translate(1362.6,292.6) scale(0.97,1)" text-anchor="middle" font-family="Liberation Serif" font-size="53.5">8</text>
<path transform="translate(1389.7,274.4)" d="M1.6,-40.2 C1.8,-46 5.5,-51.5 9.9,-51.5 C13.5,-51.5 15.8,-46 17.1,-41 L23.1,-15.5 C24.5,-9.5 26.5,-5 30,-5 C32.5,-5 34.2,-7.5 35.2,-10.6 L35.6,-10.2 C35.6,-4.5 32,0.2 27.9,0.2 C23.5,0.2 21.5,-7 20.3,-12.3 L17.9,-22.9 L6.8,-0.4 L0,-0.4 L14.9,-32.1 C14,-37 12.5,-41.5 11.5,-43 C10,-45.5 8,-46 6.4,-45.8 C4,-45.5 2.8,-42.5 2.5,-40 Z"/>
</g>
<path transform="translate(1341.9,532.3)" d="M18.7,-52 L6.8,-50.1 L6.9,-48.9 C8.7,-49.1 10.7,-49.3 11.3,-49.1 C12.3,-48.7 12.1,-47.5 11.7,-46.2 L0.6,-5.2 C0,-2.7 0.9,0 3.5,0 C7.2,0 11.2,-4.2 13.9,-8.5 L13,-9.1 C11.2,-6.5 8.7,-3.7 7.1,-3.4 C6,-3.2 5.9,-4.4 6.3,-5.9 Z"/>
<rect x="1378.6" y="500.4" width="39.5" height="3.5"/><rect x="1378.6" y="511.8" width="39.5" height="3.6"/>
<text x="1437.5" y="532.5" font-family="Liberation Serif" font-size="76">0</text>
</svg></body></html>
